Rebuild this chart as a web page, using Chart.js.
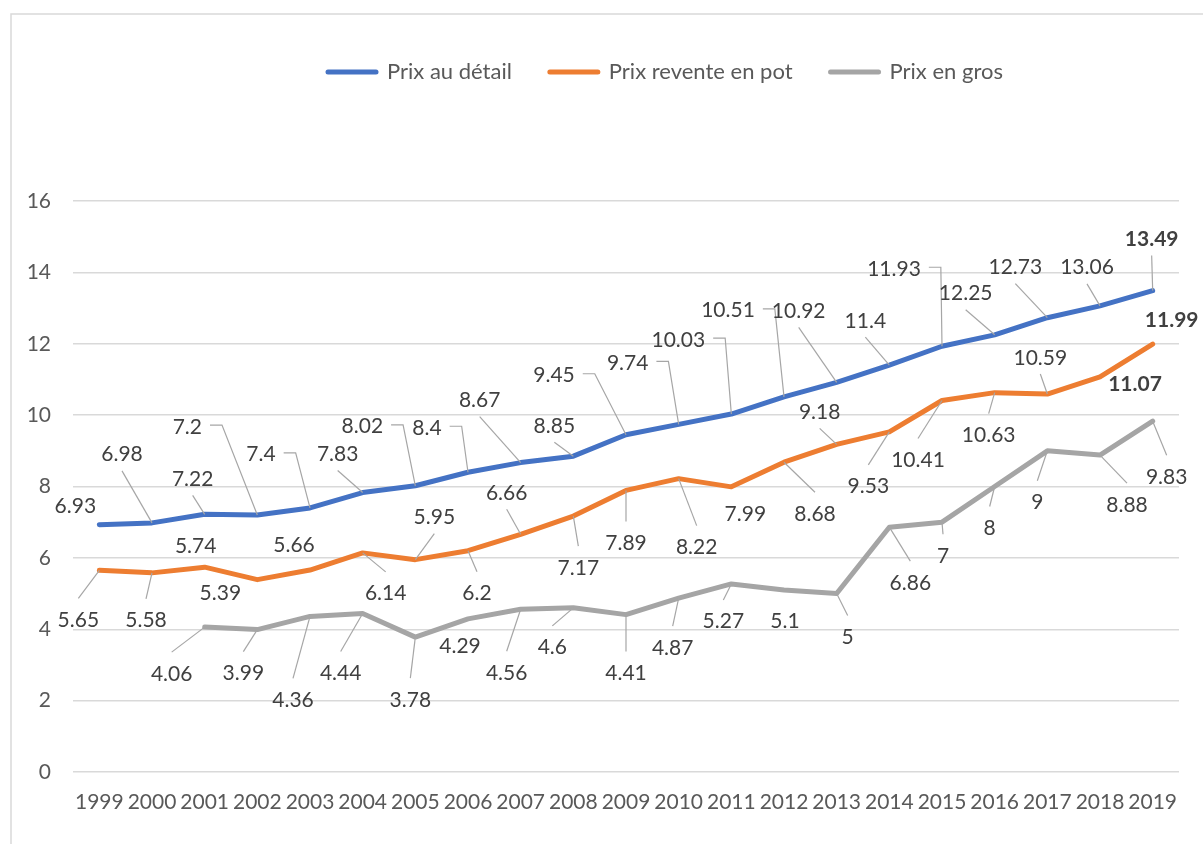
<!DOCTYPE html>
<html>
<head>
<meta charset="utf-8">
<script src="https://cdn.jsdelivr.net/npm/chart.js@4.4.1/dist/chart.umd.min.js"></script>
<style>
  html, body { margin: 0; padding: 0; background: #ffffff; }
  #wrap { position: relative; width: 1203px; height: 844px; }
</style>
</head>
<body>
<div id="wrap"><canvas id="chart" width="1203" height="844"></canvas></div>
<script>
// ---- data ----
const years = ['1999','2000','2001','2002','2003','2004','2005','2006','2007','2008','2009','2010','2011','2012','2013','2014','2015','2016','2017','2018','2019'];
const prixDetail  = [6.93, 6.98, 7.22, 7.2, 7.4, 7.83, 8.02, 8.4, 8.67, 8.85, 9.45, 9.74, 10.03, 10.51, 10.92, 11.4, 11.93, 12.25, 12.73, 13.06, 13.49];
const prixRevente = [5.65, 5.58, 5.74, 5.39, 5.66, 6.14, 5.95, 6.2, 6.66, 7.17, 7.89, 8.22, 7.99, 8.68, 9.18, 9.53, 10.41, 10.63, 10.59, 11.07, 11.99];
const prixGros    = [null, null, 4.06, 3.99, 4.36, 4.44, 3.78, 4.29, 4.56, 4.6, 4.41, 4.87, 5.27, 5.1, 5, 6.86, 7, 8, 9, 8.88, 9.83];
const seriesNames = ['Prix au détail', 'Prix revente en pot', 'Prix en gros'];

// ---- label placement (pixel offset from the point, leader: 0 none, 1 straight, 2 elbow) ----
const detailLabelPos = [
  [-24,-19,0],[-30,-69,1],[-12,-36,1],[-70,-89,2],[-49,-54,2],[-25,-39,1],[-53,-60,2],
  [-41,-45,2],[-41,-63,1],[-19,-31,1],[-72,-60,2],[-51,-62,2],[-53,-75,2],[-56,-87,2],
  [-38,-72,1],[-24,-45,1],[-48,-78,2],[-29,-42,1],[-32,-51,1],[-13,-39,1],[-1,-52,1]
];
const reventeLabelPos = [
  [-21,49,1],[-6,47,1],[-9,-22,0],[-37,13,0],[-16,-26,0],[23,40,1],[19,-43,1],
  [9,42,1],[-14,-42,1],[5,51,1],[0,52,1],[18,68,1],[14,27,0],[31,51,1],
  [-17,-33,1],[-21,54,1],[-24,59,1],[-6,42,1],[-7,-37,1],[35,7,0],[19,-25,0]
];
const grosLabelPos = [
  null,null,[-33,46,1],[-14,43,1],[-17,83,1],[-22,59,1],[-5,62,1],
  [-8,27,0],[-14,63,1],[-21,39,1],[0,58,1],[-6,49,1],[-8,37,1],[1,31,0],
  [11,43,1],[21,55,1],[1,33,1],[-5,41,1],[-10,51,1],[27,49,1],[14,55,1]
];
const labelPositions = [detailLabelPos, reventeLabelPos, grosLabelPos];
const boldLabels = [[20], [19, 20], []];

const FONT = 'Lato';

const frameAndSpacing = {
  id: 'frameAndSpacing',
  beforeInit(chart) {
    const lg = chart.legend;
    if (lg) {
      const fit = lg.fit;
      lg.fit = function () { fit.call(this); this.height += 108; };
    }
  },
  afterLayout(chart) {
    const lg = chart.legend;
    if (lg) { lg.left = 290; lg.right = 1203; }
  },
  beforeDraw(chart) {
    const ctx = chart.ctx;
    ctx.save();
    ctx.fillStyle = '#ffffff';
    ctx.fillRect(0, 0, chart.width, chart.height);
    ctx.strokeStyle = '#d9d9d9';
    ctx.lineWidth = 1.5;
    ctx.strokeRect(11, 14, 1400, 1000);
    ctx.restore();
  }
};

const leaderLabels = {
  id: 'leaderLabels',
  afterDatasetsDraw(chart) {
    const ctx = chart.ctx;
    chart.data.datasets.forEach((ds, di) => {
      const meta = chart.getDatasetMeta(di);
      const pos = labelPositions[di];
      meta.data.forEach((pt, i) => {
        const v = ds.data[i];
        if (v === null || v === undefined) return;
        const p = pos[i];
        if (!p) return;
        const cx = pt.x + p[0], cy = pt.y + p[1];
        const bold = boldLabels[di].includes(i);
        const text = String(v);
        ctx.save();
        ctx.font = (bold ? 'bold ' : '') + '21px ' + FONT;
        const w = ctx.measureText(text).width;
        ctx.strokeStyle = '#a6a6a6';
        ctx.lineWidth = 1.2;
        if (p[2] === 1) {
          const sy = pt.y > cy ? cy + 17 : cy - 21;
          ctx.beginPath();
          ctx.moveTo(cx, sy);
          ctx.lineTo(pt.x, pt.y);
          ctx.stroke();
        } else if (p[2] === 2) {
          const hx = cx + w / 2 + 8, hy = cy - 1;
          ctx.beginPath();
          ctx.moveTo(hx, hy);
          ctx.lineTo(hx + 12, hy);
          ctx.lineTo(pt.x, pt.y);
          ctx.stroke();
        }
        ctx.fillStyle = '#404040';
        ctx.textAlign = 'center';
        ctx.textBaseline = 'alphabetic';
        ctx.fillText(text, cx, cy + 7.5);
        ctx.restore();
      });
    });
  }
};

const colors = ['#4472C4', '#ED7D31', '#A5A5A5'];
const seriesData = [prixDetail, prixRevente, prixGros];

new Chart(document.getElementById('chart'), {
  type: 'line',
  data: {
    labels: years,
    datasets: seriesData.map((d, i) => ({
      label: seriesNames[i],
      data: d,
      borderColor: colors[i],
      backgroundColor: colors[i],
      borderWidth: 5,
      pointRadius: 0,
      pointHoverRadius: 0,
      tension: 0,
      borderCapStyle: 'round',
      borderJoinStyle: 'round',
      spanGaps: false,
      fill: false
    }))
  },
  options: {
    responsive: false,
    animation: false,
    events: [],
    layout: { padding: { top: 23, left: 0, right: 24, bottom: 0 } },
    plugins: {
      tooltip: { enabled: false },
      legend: {
        display: true,
        position: 'top',
        align: 'start',
        labels: {
          usePointStyle: true,
          pointStyleWidth: 48,
          padding: 38,
          color: '#595959',
          font: { family: FONT, size: 22 },
          generateLabels: (chart) => chart.data.datasets.map((ds, i) => ({
            text: ds.label,
            strokeStyle: ds.borderColor,
            fillStyle: ds.borderColor,
            lineWidth: 5,
            lineCap: 'round',
            pointStyle: 'line',
            hidden: false,
            datasetIndex: i,
            fontColor: '#595959'
          }))
        }
      }
    },
    scales: {
      x: {
        offset: true,
        grid: { display: false, drawTicks: false },
        border: { display: false },
        ticks: {
          color: '#595959',
          font: { family: FONT, size: 21 },
          padding: 18,
          maxRotation: 0,
          autoSkip: false
        },
        afterFit(scale) { scale.height = 72; }
      },
      y: {
        min: 0,
        max: 16,
        grid: { color: '#d9d9d9', lineWidth: 1.5, drawTicks: false },
        border: { display: false },
        ticks: {
          stepSize: 2,
          color: '#595959',
          font: { family: FONT, size: 21 },
          padding: 22
        },
        afterFit(scale) { scale.width = 73; }
      }
    }
  },
  plugins: [frameAndSpacing, leaderLabels]
});
</script>
</body>
</html>
